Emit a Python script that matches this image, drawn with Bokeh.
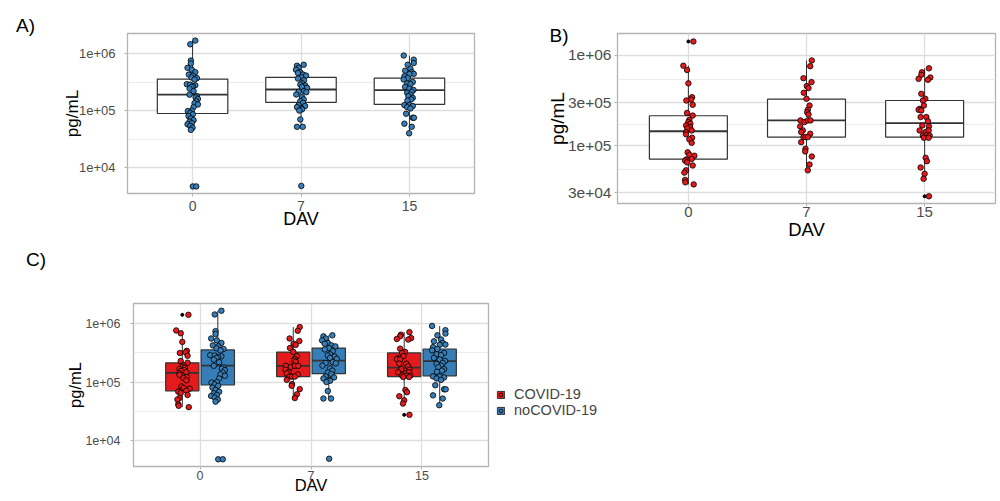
from bokeh.plotting import figure
from bokeh.models import (Range1d, FixedTicker, CustomJSTickFormatter, Label,
                          Legend, LegendItem, Div)
from bokeh.layouts import column, row
from bokeh.embed import file_html
from bokeh.resources import INLINE

# ---------------- data ----------------
dav_labels = ["0", "7", "15"]
group_names = ["COVID-19", "noCOVID-19"]
panel_letters = ["A)", "B)", "C)"]

# noCOVID-19 points per day (pg/mL) and jitter read in px of panel A
nocovid_d0 = [1.68e6, 1.45e6, 7.5e5, 6.7e5, 5.6e5, 5.2e5, 4.7e5, 4.27e5, 4.1e5, 3.8e5,
              3.7e5, 3.5e5, 2.9e5, 2.85e5, 2.77e5, 2.67e5, 2.6e5, 2.43e5, 2.19e5, 1.9e5,
              1.79e5, 1.7e5, 1.6e5, 1.46e5, 1.35e5, 1.28e5, 1.15e5, 1.0e5, 9.8e4, 9.1e4,
              8.6e4, 8.0e4, 7.3e4, 6.8e4, 6.4e4, 6.0e4, 5.75e4, 5.4e4, 5.0e4, 4.6e4,
              4.7e3, 4.7e3]
nocovid_j0 = [2.7, -2.3, -1.7, -1.7, -5, -0.7, 2.7, -3.7, 0.3, -1,
              4.3, 2, -5.7, -2.3, 2.7, 0.3, -1, -3, 1, -3,
              4.3, 3, 5.3, 3.7, 2, 5.3, 1, -0.7, -4.7, -2.3,
              0.3, -4, -1.7, 1, -3, -0.7, -5, -2.3, 0, -1.7,
              0.3, 3.7]
nocovid_d7 = [6.35e5, 6.1e5, 5.6e5, 5.2e5, 4.7e5, 4.55e5, 4.27e5, 4.1e5, 3.83e5, 3.63e5,
              3.39e5, 3.0e5, 2.85e5, 2.74e5, 2.6e5, 2.5e5, 2.2e5, 2.13e5, 2.1e5, 1.91e5,
              1.72e5, 1.57e5, 1.46e5, 1.37e5, 1.25e5, 1.2e5, 1.15e5, 1.09e5, 1.05e5, 1.0e5,
              7.0e4, 5.2e4, 5.2e4, 4.8e3]
nocovid_j7 = [2.7, -4, -2.3, -5, -0.7, -3, 2, 5, 0.3, -3,
              3, 1, -0.7, 4.3, 1, 6, 3, -2.3, 5.3, -4.7,
              1, 2.7, -0.7, 2, -2.3, 4, -4, 0.3, 1, -1.7,
              -0.7, -4, 1.7, 0.3]
nocovid_d15 = [9.2e5, 7.8e5, 6.8e5, 6.35e5, 5.4e5, 5.0e5, 4.7e5, 4.4e5, 4.37e5, 3.98e5,
               3.7e5, 3.5e5, 3.16e5, 3.0e5, 2.9e5, 2.6e5, 2.43e5, 2.3e5, 2.13e5, 2.05e5,
               1.91e5, 1.79e5, 1.67e5, 1.57e5, 1.5e5, 1.25e5, 1.25e5, 1.2e5, 1.15e5, 1.09e5,
               8.8e4, 7.5e4, 7.5e4, 5.9e4, 5.2e4, 4.0e4]
nocovid_j15 = [-5.7, 4.3, 4.3, -1.7, 1, -4.3, 2.3, 4.3, 0, -5,
               -1.7, -5.7, 3.3, -2.3, 1, -4.3, 0, 4, 2.3, -2.3,
               1, -1, 3.3, 1.7, -2, -5, 0, 3.3, -2.3, 1,
               -3.3, 3.3, 4.5, -5, 2.3, -0.3]

# COVID-19 points per day (pg/mL) and jitter read in px of panel B
covid_d0 = [1.43e6, 7.7e5, 6.9e5, 4.9e5, 3.44e5, 3.24e5, 3.16e5, 2.83e5, 2.3e5, 2.15e5,
            1.93e5, 1.82e5, 1.75e5, 1.67e5, 1.6e5, 1.55e5, 1.47e5, 1.41e5, 1.33e5, 1.22e5,
            1.17e5, 1.07e5, 8.4e4, 7.9e4, 7.7e4, 7.1e4, 7.0e4, 6.8e4, 6.5e4, 6.0e4,
            5.3e4, 5.0e4, 4.15e4, 3.9e4, 3.7e4]
covid_j0 = [5, -5, -1.3, 0, 3.7, 2.7, -2, 4.3, -1.3, 4.3,
            1, 0, 2, -2.3, 1.7, -1, 3.3, -2.3, -2.3, 3.7,
            1, 3.3, -0.7, 1, 6, 3.3, -2, -3.3, -1.3, 4.3,
            -2.3, -4, -3.3, -3, 5.3]
covid_d7 = [8.8e5, 7.6e5, 5.6e5, 5.06e5, 4.57e5, 4.34e5, 3.85e5, 3.3e5, 2.78e5, 2.49e5,
            2.34e5, 2.21e5, 1.9e5, 1.82e5, 1.9e5, 1.9e5, 1.63e5, 1.47e5, 1.41e5, 1.35e5,
            1.24e5, 1.24e5, 1.24e5, 1.09e5, 9.2e4, 8.6e4, 7.55e4, 6.15e4, 5.3e4]
covid_j7 = [5.3, 3.7, -3, 5, 0.3, 2, -2.7, 0, 3, 1.3,
            0.7, 2, -6, -2, 1.3, 4, -6.3, -3.7, -5.3, 3.7,
            -3, -1, 1.3, -5.3, -1, -1.3, 5.3, 3, 1.3]
covid_d15 = [7.2e5, 6.5e5, 6.1e5, 5.7e5, 5.5e5, 5.37e5, 3.75e5, 3.3e5, 3.16e5, 2.78e5,
             2.55e5, 2.49e5, 2.45e5, 2.07e5, 2.07e5, 1.86e5, 1.67e5, 1.63e5, 1.47e5, 1.41e5,
             1.47e5, 1.29e5, 1.29e5, 1.29e5, 1.22e5, 1.22e5, 7.3e4, 6.7e4, 5.7e4, 4.85e4,
             4.27e4, 2.73e4]
covid_j15 = [4.3, -2.7, -3.3, 5.7, -6, 3.3, -3.3, 0.7, -1.7, -0.7,
             -5, -6, -3.3, -4, 1.7, 3.3, -2.3, 4.3, -5, 1,
             4, -1.7, 1.7, 5, -0.7, 4, 1, 2.3, -4, 0,
             -1, 4.3]

# box statistics, per day 0 / 7 / 15
nocovid_q1 = [8.9e4, 1.39e5, 1.28e5]
nocovid_med = [1.91e5, 2.34e5, 2.28e5]
nocovid_q3 = [3.57e5, 3.83e5, 3.7e5]
nocovid_lo = [4.6e4, 5.2e4, 4.0e4]
nocovid_hi = [1.68e6, 6.35e5, 9.2e5]
nocovid_out_day = [0, 0, 1]
nocovid_out_val = [4.7e3, 4.7e3, 4.8e3]

covid_q1 = [7.05e4, 1.24e5, 1.24e5]
covid_med = [1.44e5, 1.9e5, 1.77e5]
covid_q3 = [2.14e5, 3.27e5, 3.16e5]
covid_lo = [3.7e4, 5.3e4, 4.27e4]
covid_hi = [7.7e5, 8.8e5, 7.2e5]
covid_out_day = [0, 2]
covid_out_val = [1.43e6, 2.73e4]

# axis breaks and limits
ticks_ac = [1e4, 1e5, 1e6]
ticks_b = [3e4, 1e5, 3e5, 1e6]
yrange_ac = (10 ** 3.548, 10 ** 6.35)
yrange_b = (10 ** 4.356, 10 ** 6.244)

# ---------------- styling ----------------
FONT = "Liberation Sans"
RED = "#E41A1C"
BLUE = "#377EB8"
EDGE = "#333333"
GRID = "#DEDEDE"
BORDER = "#B3B3B3"

nocovid_vals = [nocovid_d0, nocovid_d7, nocovid_d15]
nocovid_jit = [nocovid_j0, nocovid_j7, nocovid_j15]
covid_vals = [covid_d0, covid_d7, covid_d15]
covid_jit = [covid_j0, covid_j7, covid_j15]

Y_FMT = """
const e = Math.floor(Math.log10(tick) + 1e-9);
const m = Math.round(tick / Math.pow(10, e));
return m + "e+" + (e < 10 ? "0" : "") + e;
"""


def geo_mid(ticks):
    return [(a * b) ** 0.5 for a, b in zip(ticks[:-1], ticks[1:])]


def make_fig(width, height, mbl, mbr, mbt, mbb, yr, yticks, tick_px, xtick_px,
             ylab_px, xlab_px, ystand, xstand, ylab_standoff, xlab_standoff):
    p = figure(width=width, height=height, x_range=Range1d(0.4, 3.6),
               y_range=Range1d(*yr), y_axis_type="log",
               output_backend="svg", toolbar_location=None,
               min_border_left=mbl, min_border_right=mbr,
               min_border_top=mbt, min_border_bottom=mbb)
    p.background_fill_color = "white"
    p.border_fill_color = "white"
    p.outline_line_color = BORDER
    p.outline_line_width = 1.3

    xt = FixedTicker(ticks=[1, 2, 3], minor_ticks=[])
    p.xaxis.ticker = xt
    p.xgrid.ticker = xt
    p.xaxis.formatter = CustomJSTickFormatter(args=dict(labels=dav_labels),
                                              code="return labels[Math.round(tick) - 1] || '';")
    yt = FixedTicker(ticks=yticks, minor_ticks=geo_mid(yticks))
    p.yaxis.ticker = yt
    p.ygrid.ticker = yt
    p.yaxis.formatter = CustomJSTickFormatter(code=Y_FMT)

    p.xgrid.grid_line_color = GRID
    p.xgrid.grid_line_width = 1.3
    p.ygrid.grid_line_color = GRID
    p.ygrid.grid_line_width = 1.3
    p.ygrid.minor_grid_line_color = "#E6E6E6"
    p.ygrid.minor_grid_line_width = 0.8

    for ax in (p.xaxis, p.yaxis):
        ax.axis_line_color = None
        ax.major_tick_line_color = BORDER
        ax.major_tick_out = 3
        ax.major_tick_in = 0
        ax.minor_tick_line_color = None
        ax.major_label_text_font = FONT
        ax.major_label_text_color = "#4D4D4D"
        ax.axis_label_text_font = FONT
        ax.axis_label_text_font_style = "normal"
        ax.axis_label_text_color = "black"
    p.yaxis.major_label_text_font_size = f"{tick_px}px"
    p.xaxis.major_label_text_font_size = f"{xtick_px}px"
    p.yaxis.axis_label = "pg/mL"
    p.yaxis.axis_label_standoff = ylab_standoff
    p.yaxis.axis_label_text_font_size = f"{ylab_px}px"
    p.yaxis.major_label_standoff = ystand
    p.xaxis.major_label_standoff = xstand
    p.xaxis.axis_label = "DAV"
    p.xaxis.axis_label_standoff = xlab_standoff
    p.xaxis.axis_label_text_font_size = f"{xlab_px}px"
    return p


def draw_boxes(p, centers, w, q1, med, q3, lo, hi, fill):
    left = [c - w / 2 for c in centers]
    right = [c + w / 2 for c in centers]
    p.segment(x0=centers, y0=lo, x1=centers, y1=hi, line_color=EDGE, line_width=1)
    r = p.quad(left=left, right=right, bottom=q1, top=q3, fill_color=fill,
               line_color=EDGE, line_width=1.2)
    p.segment(x0=left, y0=med, x1=right, y1=med, line_color=EDGE, line_width=1.8)
    return r


def points(vals, jits, px_per_unit, offset=0.0, scale=1.0):
    xs, ys = [], []
    for i, (v, j) in enumerate(zip(vals, jits)):
        for a, b in zip(v, j):
            xs.append(i + 1 + offset + scale * b / px_per_unit)
            ys.append(a)
    return xs, ys


def letter_div(text, w, h, pad_left, pad_top):
    html = (f'<div style="padding:{pad_top}px 0 0 {pad_left}px;'
            f'font-family:\'Liberation Sans\',Arial,sans-serif;font-size:19px;'
            f'line-height:19px;color:#000;">{text}</div>')
    return Div(text=html, width=w, height=h, margin=(0, 0, 0, 0))


ROW1_H = 248
ROW2_H = 253

# ---------------- panel A (noCOVID-19) ----------------
divA = letter_div(panel_letters[0], 40, ROW1_H, 16, 16)
pA = make_fig(480, 238, 87, 46, 33, 45, yrange_ac, ticks_ac, 13, 14, 17, 18, 8, 4, -6, -5)
draw_boxes(pA, [1, 2, 3], 0.65, nocovid_q1, nocovid_med, nocovid_q3,
           nocovid_lo, nocovid_hi, "white")
pA.scatter([d + 1 for d in nocovid_out_day], nocovid_out_val, size=3,
           fill_color="black", line_color="black")
xa, ya = points(nocovid_vals, nocovid_jit, 108.0)
pA.scatter(xa, ya, size=5.5, fill_color=BLUE, line_color="black", line_width=0.8)

# ---------------- panel B (COVID-19) ----------------
pB = make_fig(480, ROW1_H, 97, 5, 33, 45, yrange_b, ticks_b, 15.5, 15, 19, 18.5, 2, 0, -3, -1)
draw_boxes(pB, [1, 2, 3], 0.66, covid_q1, covid_med, covid_q3,
           covid_lo, covid_hi, "white")
pB.scatter([d + 1 for d in covid_out_day], covid_out_val, size=3,
           fill_color="black", line_color="black")
xb, yb = points(covid_vals, covid_jit, 118.0)
pB.scatter(xb, yb, size=5.5, fill_color=RED, line_color="black", line_width=0.8)
pB.add_layout(Label(x=25, y=168, x_units="screen", y_units="screen",
                    text=panel_letters[1], text_font=FONT, text_font_size="19px",
                    text_color="black", text_baseline="alphabetic"), "left")

# ---------------- panel C (both) ----------------
DODGE = 0.16
BW = 0.3
divC = letter_div(panel_letters[2], 50, ROW2_H, 26, 2)
pC = make_fig(441, ROW2_H, 83, 3, 55, 35, yrange_ac, ticks_ac, 12.5, 12.5, 16.5, 16.5, 9, 1, -2, -7)
draw_boxes(pC, [1 - DODGE, 2 - DODGE, 3 - DODGE], BW, covid_q1, covid_med,
           covid_q3, covid_lo, covid_hi, RED)
draw_boxes(pC, [1 + DODGE, 2 + DODGE, 3 + DODGE], BW, nocovid_q1, nocovid_med,
           nocovid_q3, nocovid_lo, nocovid_hi, BLUE)
pC.scatter([d + 1 - DODGE for d in covid_out_day], covid_out_val, size=3,
           fill_color="black", line_color="black")
pC.scatter([d + 1 + DODGE for d in nocovid_out_day], nocovid_out_val, size=3,
           fill_color="black", line_color="black")
xc, yc = points(covid_vals, covid_jit, 118.0, -DODGE, 1.3)
pC.scatter(xc, yc, size=5.5, fill_color=RED, line_color="black", line_width=0.8)
xn, yn = points(nocovid_vals, nocovid_jit, 108.0, DODGE, 1.3)
pC.scatter(xn, yn, size=5.5, fill_color=BLUE, line_color="black", line_width=0.8)

# ---------------- legend (own small canvas) ----------------
pL = figure(width=130, height=ROW2_H, x_range=Range1d(0, 1), y_range=Range1d(0, 1),
            output_backend="svg", toolbar_location=None, min_border=0,
            x_axis_location=None, y_axis_location=None)
pL.outline_line_color = None
pL.background_fill_color = "white"
pL.border_fill_color = "white"
pL.xgrid.visible = False
pL.ygrid.visible = False
items = []
for name, col in zip(group_names, [RED, BLUE]):
    rq = pL.quad(left=[5], right=[6], bottom=[5], top=[6], fill_color=col,
                 line_color=EDGE, line_width=1)
    rs = pL.scatter([5], [5], size=5, fill_color=col, line_color="black", line_width=0.8)
    items.append(LegendItem(label=name, renderers=[rq, rs]))
legend = Legend(items=items, location=(5, 48), glyph_width=9, glyph_height=9,
                spacing=0, padding=0, margin=0, label_standoff=9, label_height=12,
                label_text_font=FONT, label_text_font_size="14.5px",
                border_line_color=None, background_fill_alpha=0)
pL.add_layout(legend)

layout = column(row(divA, pA, pB), row(divC, pC, pL))
open("out.html", "w").write(file_html(layout, INLINE))
